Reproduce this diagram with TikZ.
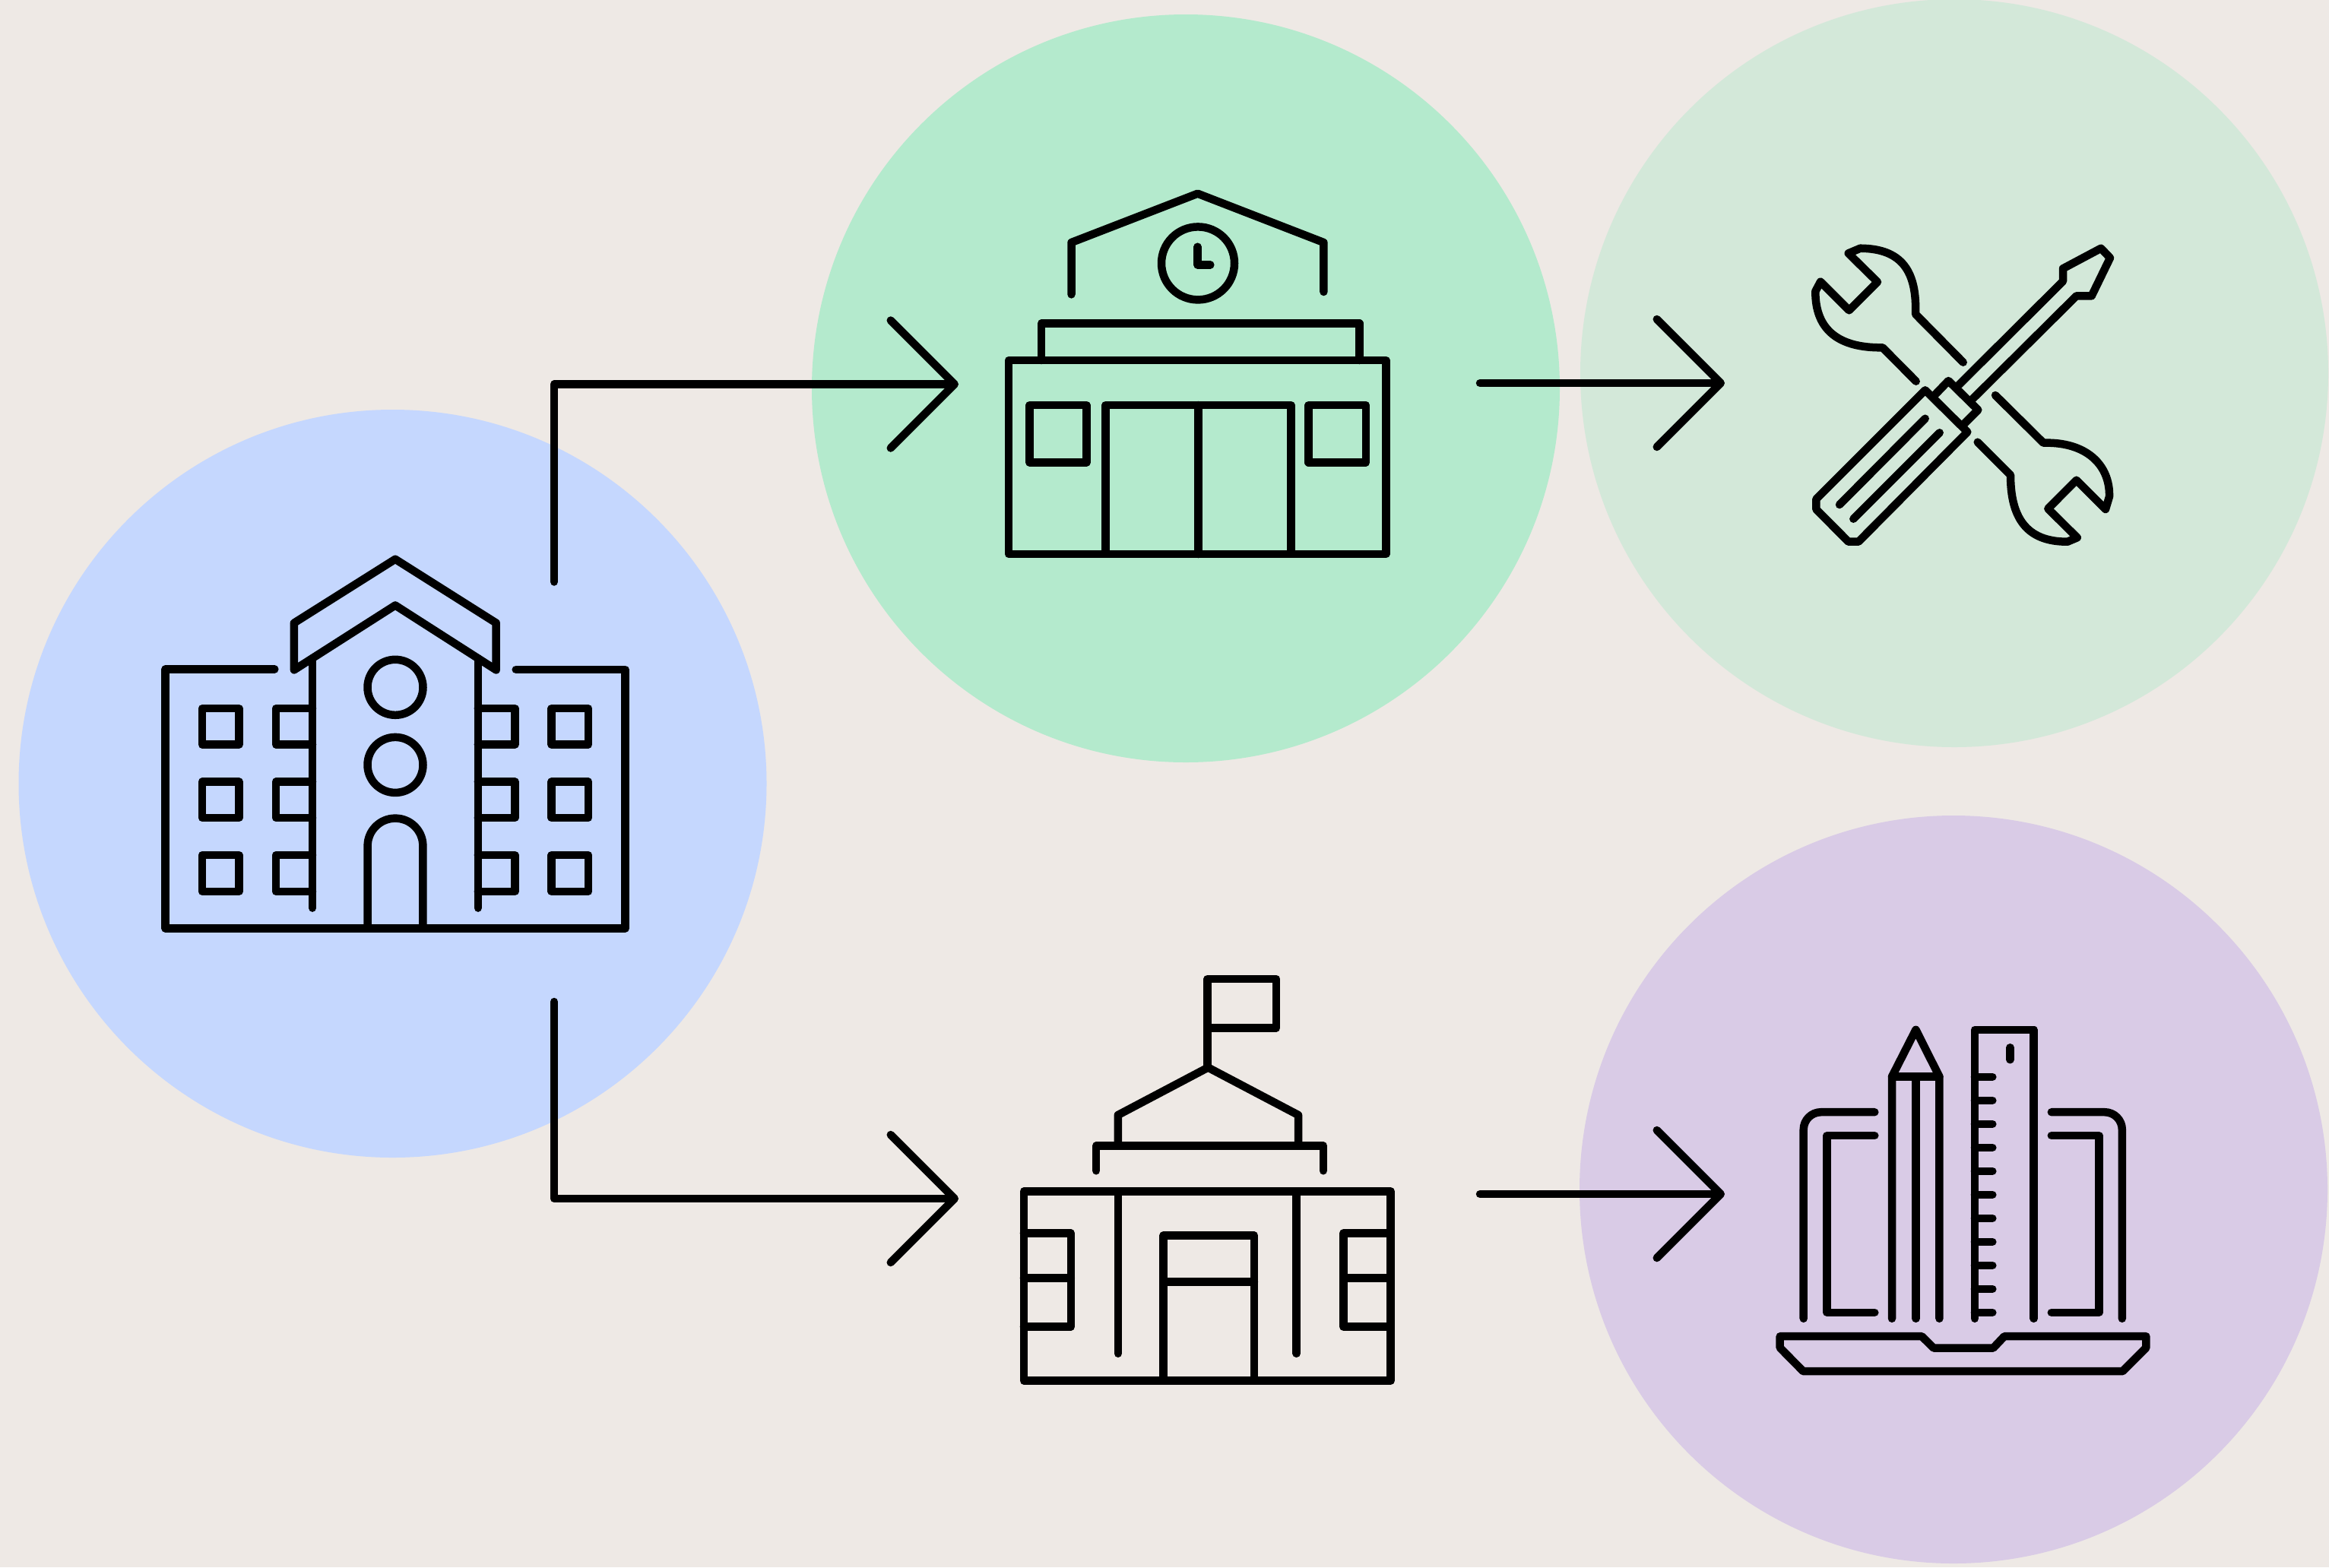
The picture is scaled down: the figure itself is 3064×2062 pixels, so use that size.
\documentclass[tikz,border=0pt]{standalone}
\usetikzlibrary{arrows.meta}
\definecolor{bgc}{HTML}{EEE9E5}
\definecolor{bluec}{HTML}{C5D7FE}
\definecolor{greenc}{HTML}{B4EACD}
\definecolor{paleg}{HTML}{D3E8D9}
\definecolor{purplec}{HTML}{D9CBE6}
\tikzset{
  disc/.style={circle,minimum size=984pt,inner sep=0pt,draw=none,fill=#1},
  icon/.style={draw=black,line width=10.5pt,line cap=round,line join=round},
  conn/.style={draw=black,line width=10.5pt,line cap=round,line join=round,
    -{Straight Barb[length=84pt,width=168pt,round,line width=10.5pt]}},
}
\begin{document}
\begin{tikzpicture}[x=1pt,y=-1pt]
\clip (0,0) rectangle (3064,2062);
\fill[bgc] (0,0) rectangle (3064,2062);
% discs
\node[disc=bluec] (school) at (516.5,1031) {};
\node[disc=greenc] (station) at (1560,511) {};
\node[disc=paleg] (tools) at (2571,491) {};
\node[disc=purplec] (design) at (2570,1565) {};
% connector ends
\coordinate (upStart) at (729,765.5);
\coordinate (upEnd) at (1261,505.5);
\coordinate (downStart) at (729,1318);
\coordinate (downEnd) at (1261,1577);
\coordinate (rightAStart) at (1947,504);
\coordinate (rightAEnd) at (2269,504);
\coordinate (rightBStart) at (1947,1571);
\coordinate (rightBEnd) at (2269,1571);
\draw[conn] (upStart) |- (upEnd);
\draw[conn] (downStart) |- (downEnd);
\draw[conn] (rightAStart) -- (rightAEnd);
\draw[conn] (rightBStart) -- (rightBEnd);
% icon 1: school
\draw[icon] (520,735.7) -- (386.9,819.6) -- (386.9,881.4) -- (520,796.4) -- (652.7,881.4) -- (652.7,819.6) -- cycle;
\draw[icon] (361.3,880.4) -- (217.7,880.4) -- (217.7,1221.4) -- (822.7,1221.4) -- (822.7,881) -- (678.7,881);
\draw[icon] (411.1,866) -- (411.1,1194.6);
\draw[icon] (628.8,866) -- (628.8,1194.6);
\foreach \ya/\yb in {932.1/979.6,1028.6/1076,1125/1172.9}{
  \draw[icon] (265.9,\ya) rectangle (314.4,\yb);
  \draw[icon] (411,\ya) -- (363,\ya) -- (363,\yb) -- (411,\yb);
  \draw[icon] (628.8,\ya) -- (677.4,\ya) -- (677.4,\yb) -- (628.8,\yb);
  \draw[icon] (725.5,\ya) rectangle (774,\yb);
}
\draw[icon] (520,904.3) circle[radius=36.5];
\draw[icon] (520,1006.4) circle[radius=36.5];
\draw[icon] (483.6,1221.4) -- (483.6,1113) arc[start angle=180,end angle=360,radius=36.4] -- (556.4,1221.4);
% icon 2: station
\begin{scope}[yshift=-0.7pt]
\draw[icon] (1409.5,386.7) -- (1409.5,318.3) -- (1575.6,254) -- (1741.4,318.3) -- (1741.4,383.3);
\draw[icon] (1576,345.7) circle[radius=48];
\draw[icon] (1575.6,324) -- (1575.6,347.7) -- (1592.3,347.7);
\draw[icon] (1370,473.3) -- (1370,425) -- (1788.3,425) -- (1788.3,473.3);
\draw[icon] (1327,473.3) rectangle (1823.5,728.3);
\draw[icon] (1354.4,532.3) rectangle (1429.5,607.7);
\draw[icon] (1721.7,532.3) rectangle (1796.9,607.7);
\draw[icon] (1454.3,532.3) rectangle (1698.4,728.3);
\draw[icon] (1576.4,532.3) -- (1576.4,728.3);
\end{scope}
% icon 3: tools
\draw[icon] (2582.7,476.7) -- (2520,413.3) .. controls (2522,357) and (2502,327) .. (2447.3,326.7)
  -- (2431.7,333.3) -- (2470,371) -- (2432.7,408.3) -- (2395,370.7) -- (2388.3,383.3)
  .. controls (2388,435) and (2420,458) .. (2476.7,457.3) -- (2520.7,501.7);
\draw[icon] (2625,520) -- (2688.3,582.7) .. controls (2745,581) and (2776,612) .. (2775,653.3)
  -- (2770,670) -- (2731.7,631.7) -- (2694.3,669.3) -- (2732.7,707.3) -- (2720,712.7)
  .. controls (2665,713) and (2645,680) .. (2645,625) -- (2601.7,581.7);
\draw[icon] (2532.7,513.3) -- (2588.3,568.3) -- (2445,712.7) -- (2431.7,712.7) -- (2389.3,670) -- (2389.3,656.7) -- cycle;
\draw[icon] (2532.7,550.7) -- (2420,664);
\draw[icon] (2551.7,569.3) -- (2438.3,682.7);
\draw[icon] (2545,520) -- (2563.3,501) -- (2602.3,539.3) -- (2583.3,558.3);
\draw[icon] (2576.7,506.7) -- (2714,370) -- (2714,353.3) -- (2764,326.7) -- (2776,339.3) -- (2751.7,389.3) -- (2731.7,389.3) -- (2595,525);
% icon 4: hall
\begin{scope}[yshift=-1pt]
\draw[icon] (1588.3,1402.4) -- (1588.3,1287) -- (1679.2,1287) -- (1679.2,1351.4) -- (1588.3,1351.4);
\draw[icon] (1470.8,1506) -- (1470.8,1466) -- (1589.3,1403.5) -- (1708,1466) -- (1708,1506);
\draw[icon] (1442.2,1539.3) -- (1442.2,1506.4) -- (1740.8,1506.4) -- (1740.8,1539.3);
\draw[icon] (1346.9,1566.3) rectangle (1829.6,1815.7);
\draw[icon] (1470.8,1566.3) -- (1470.8,1779.8);
\draw[icon] (1705.7,1566.3) -- (1705.7,1779.8);
\draw[icon] (1346.9,1621.4) -- (1408.8,1621.4) -- (1408.8,1744.6) -- (1346.9,1744.6);
\draw[icon] (1346.9,1680.6) -- (1408.8,1680.6);
\draw[icon] (1829.6,1621.4) -- (1767.3,1621.4) -- (1767.3,1744.6) -- (1829.6,1744.6);
\draw[icon] (1767.3,1680.6) -- (1829.6,1680.6);
\draw[icon] (1530.7,1624.4) rectangle (1649.9,1815.7);
\draw[icon] (1530.7,1685.4) -- (1649.9,1685.4);
\end{scope}
% icon 5: design
\begin{scope}[yshift=-1.5pt]
\draw[icon,rounded corners=23pt] (2372.7,1733.3) -- (2372.7,1461.7) -- (2466.3,1461.7);
\draw[icon] (2466.3,1492.7) -- (2403.7,1492.7) -- (2403.7,1725.3) -- (2466.3,1725.3);
\draw[icon] (2489,1733.3) -- (2489,1415) -- (2520.4,1353.3) -- (2551.4,1415) -- (2551.4,1733.3);
\draw[icon] (2489,1415) -- (2551.4,1415);
\draw[icon] (2520.4,1415) -- (2520.4,1733.3);
\draw[icon] (2597.9,1733.3) -- (2597.9,1353.3) -- (2675.7,1353.3) -- (2675.7,1733.3);
\draw[icon] (2644.4,1376.7) -- (2644.4,1392.7);
\foreach \yt in {1415.3,1446.3,1477.3,1508.3,1539.3,1570.3,1601.3,1632.3,1663.3,1694.3,1725.3}{
  \draw[icon] (2597.9,\yt) -- (2621.3,\yt);
}
\draw[icon] (2698.8,1492.7) -- (2761.5,1492.7) -- (2761.5,1725.3) -- (2698.8,1725.3);
\draw[icon,rounded corners=23pt] (2698.8,1461.7) -- (2791.8,1461.7) -- (2791.8,1733.3);
\draw[icon] (2341.7,1756.7) -- (2528.3,1756.7) -- (2543.8,1772) -- (2622.3,1772) -- (2636.8,1756.7) -- (2823.4,1756.7) -- (2823.4,1771.7) -- (2792.4,1802.7) -- (2372.3,1802.7) -- (2341.7,1771.7) -- cycle;
\end{scope}
\end{tikzpicture}
\end{document}
